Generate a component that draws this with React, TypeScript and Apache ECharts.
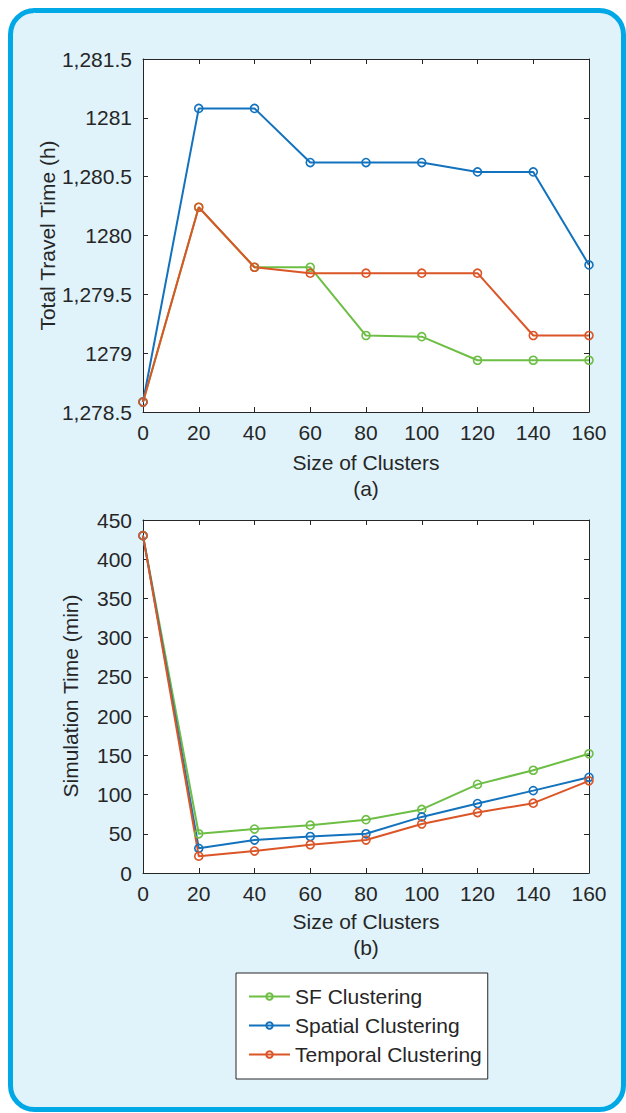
import React, { useEffect, useRef } from "react";
import * as echarts from "echarts";

const clusterSizes = [0, 20, 40, 60, 80, 100, 120, 140, 160];
const seriesNames = ["SF Clustering", "Spatial Clustering", "Temporal Clustering"];

const travelSF = [1278.585, 1280.24, 1279.73, 1279.73, 1279.15, 1279.14, 1278.94, 1278.94, 1278.94];
const travelSpatial = [1278.585, 1281.08, 1281.08, 1280.62, 1280.62, 1280.62, 1280.54, 1280.54, 1279.75];
const travelTemporal = [1278.585, 1280.24, 1279.73, 1279.68, 1279.68, 1279.68, 1279.68, 1279.15, 1279.15];

const simSF = [430, 50, 56, 61, 68, 81, 113, 131, 152];
const simSpatial = [430, 31.5, 42, 46.5, 50, 71.5, 88.5, 105, 122];
const simTemporal = [430, 21.5, 28, 36, 42, 62.5, 77, 89, 117.5];

const travelTickLabels = ["1,278.5", "1279", "1,279.5", "1280", "1,280.5", "1281", "1,281.5"];

const colors = ["#6dbe45", "#1372bd", "#db5527"];
const FONT = '"Liberation Sans", Arial, Helvetica, sans-serif';
const TXT = "#262626";

export default function App() {
  const ref = useRef<HTMLDivElement>(null);
  useEffect(() => {
    const chart = echarts.init(ref.current!, null, { renderer: "svg" });

    const pairs = (ys: number[]) => clusterSizes.map((x, i) => [x, ys[i]]);

    const mkSeries = (name: string, ys: number[], color: string, axis: number) => ({
      type: "line",
      name,
      xAxisIndex: axis,
      yAxisIndex: axis,
      data: pairs(ys),
      symbol: "circle",
      symbolSize: 8,
      showSymbol: true,
      lineStyle: { color, width: 2 },
      itemStyle: { color: "rgba(255,255,255,0)", borderColor: color, borderWidth: 1.6 },
      emphasis: { disabled: true },
      clip: false,
    });

    const axisLine = { show: true, onZero: false, lineStyle: { color: TXT, width: 1 } };
    const tick = { show: true, inside: true, length: 5, lineStyle: { color: TXT, width: 1 } };
    const labelStyle = { color: TXT, fontSize: 21, fontFamily: FONT };

    const xMain = (gridIndex: number) => ({
      type: "value",
      gridIndex,
      min: 0,
      max: 160,
      interval: 20,
      position: "bottom",
      axisLine,
      axisTick: tick,
      splitLine: { show: false },
      axisLabel: { ...labelStyle, margin: 10 },
    });
    const xTop = (gridIndex: number) => ({
      type: "value",
      gridIndex,
      min: 0,
      max: 160,
      interval: 20,
      position: "top",
      axisLine,
      axisTick: tick,
      splitLine: { show: false },
      axisLabel: { show: false },
    });
    const yAxis = (gridIndex: number, min: number, max: number, interval: number, pos: string, fmt?: any) => ({
      type: "value",
      gridIndex,
      min,
      max,
      interval,
      position: pos,
      axisLine,
      axisTick: tick,
      splitLine: { show: false },
      axisLabel: fmt ? { ...labelStyle, margin: 11, formatter: fmt } : { show: false },
    });

    const travelFmt = (v: number) => travelTickLabels[Math.round((v - 1278.5) / 0.5)];

    const text = (t: string, x: number, y: number, rot = 0) => ({
      type: "text",
      x,
      y,
      rotation: rot,
      z: 10,
      style: {
        text: t,
        fill: TXT,
        font: `21px ${FONT}`,
        textAlign: "center",
        textVerticalAlign: "middle",
        align: "center",
        verticalAlign: "middle",
      },
    });

    chart.setOption({
      animation: false,
      backgroundColor: "#ffffff",
      textStyle: { fontFamily: FONT },
      graphic: [
        {
          type: "rect",
          z: -10,
          shape: { x: 10.5, y: 10.5, width: 613, height: 1099, r: 24 },
          style: { fill: "#e0f3fb", stroke: "#00a9e6", lineWidth: 5 },
        },
        text("Total Travel Time (h)", 47, 235.5, Math.PI / 2),
        text("Simulation Time (min)", 70, 696, Math.PI / 2),
        text("Size of Clusters", 366, 462),
        text("(a)", 366, 488),
        text("Size of Clusters", 366, 921),
        text("(b)", 366, 947),
      ],
      grid: [
        { left: 143, top: 59, width: 446, height: 353, show: true, backgroundColor: "#ffffff", borderWidth: 0 },
        { left: 143, top: 520, width: 446, height: 353, show: true, backgroundColor: "#ffffff", borderWidth: 0 },
      ],
      xAxis: [xMain(0), xTop(0), xMain(1), xTop(1)],
      yAxis: [
        yAxis(0, 1278.5, 1281.5, 0.5, "left", travelFmt),
        yAxis(0, 1278.5, 1281.5, 0.5, "right"),
        yAxis(1, 0, 450, 50, "left", (v: number) => String(v)),
        yAxis(1, 0, 450, 50, "right"),
      ],
      legend: {
        show: true,
        data: seriesNames,
        orient: "vertical",
        left: 236,
        top: 973,
        padding: [13, 6, 14, 12],
        itemWidth: 41,
        itemHeight: 8,
        itemGap: 8,
        backgroundColor: "#ffffff",
        borderColor: TXT,
        borderWidth: 1,
        borderRadius: 0,
        selectedMode: false,
        textStyle: { color: TXT, fontSize: 21, fontFamily: FONT, lineHeight: 20 },
      },
      series: [
        mkSeries(seriesNames[0], travelSF, colors[0], 0),
        mkSeries(seriesNames[1], travelSpatial, colors[1], 0),
        mkSeries(seriesNames[2], travelTemporal, colors[2], 0),
        { ...mkSeries(seriesNames[0], simSF, colors[0], 2), xAxisIndex: 2, yAxisIndex: 2 },
        { ...mkSeries(seriesNames[1], simSpatial, colors[1], 2), xAxisIndex: 2, yAxisIndex: 2 },
        { ...mkSeries(seriesNames[2], simTemporal, colors[2], 2), xAxisIndex: 2, yAxisIndex: 2 },
      ],
    });
    return () => chart.dispose();
  }, []);
  return <div ref={ref} style={{ position: "absolute", left: 0, top: 0, width: 626, height: 1113 }} />;
}
